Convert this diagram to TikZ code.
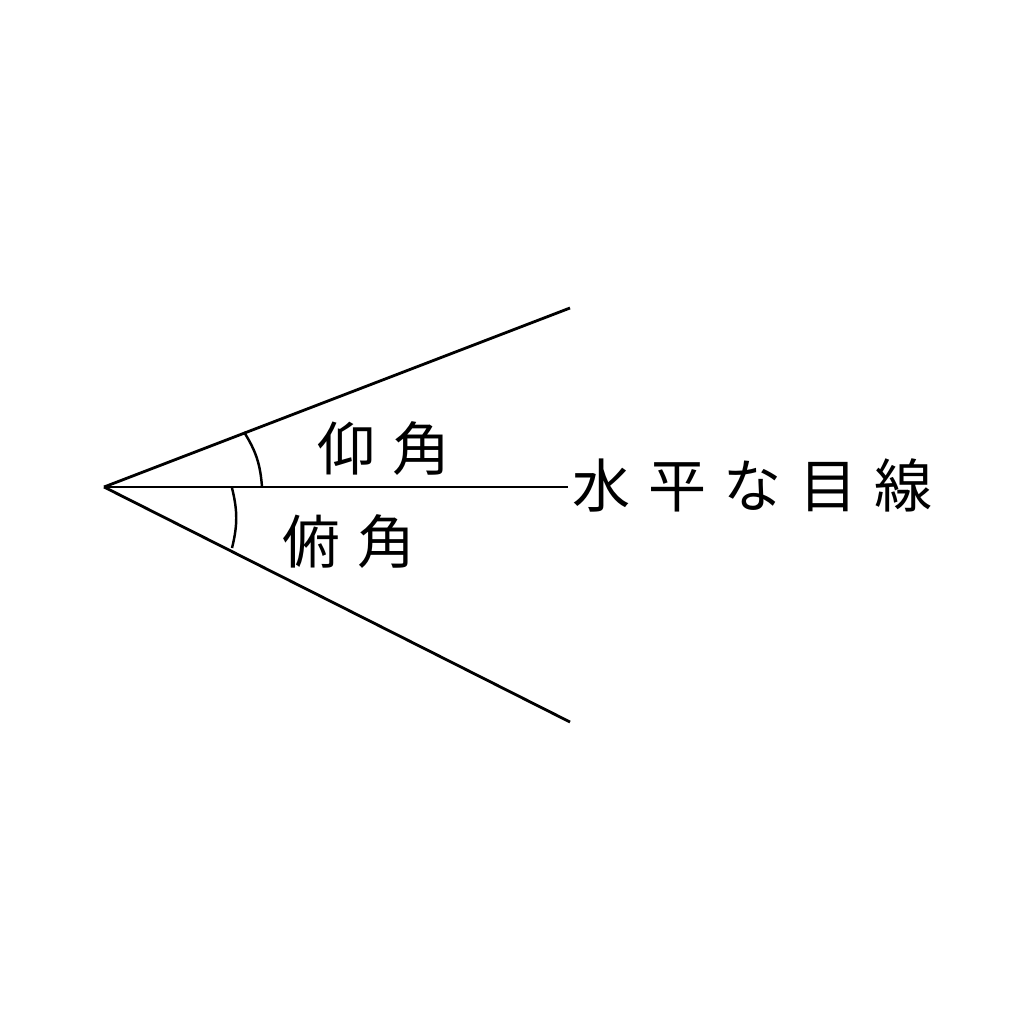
\documentclass[tikz,border=0pt]{standalone}
\usepackage{fontspec}
\newfontfamily\jpfont[LetterSpace=30]{Noto Sans CJK JP}
\usetikzlibrary{positioning}

\begin{document}
\begin{tikzpicture}[x=0.01cm, y=-0.01cm,
    sight/.style={line width=0.8pt},
    anglemark/.style={line width=0.7pt},
    jplabel/.style={inner sep=0pt, font=\jpfont\fontsize{16.5}{20}\selectfont}]
      \useasboundingbox[fill=white] (0,0) rectangle (1024,1024);
      % eye and the three lines of sight
      \coordinate (O) at (104,487);
      \coordinate (A) at (570,308);
      \coordinate (B) at (570,722);
      \coordinate (H) at (568,487);
      \draw[sight] (O) -- (A);
      \draw[sight] (O) -- (B);
      \draw[line width=0.6pt] (O) -- (H);

      % angle marks
      \coordinate (A1) at (244,432);
      \coordinate (H1) at (262,487);
      \coordinate (H2) at (232,488);
      \coordinate (B1) at (232,548);
      \draw[anglemark] (A1) to[bend left=14] (H1);
      \draw[anglemark] (H2) to[bend left=14] (B1);

      \node[jplabel] (elev) at (384,449) {仰角};
      \node[jplabel] (depr) at (349,542) {俯角};
      \node[jplabel, anchor=west] (horiz) at (572,485) {水平な目線};
    \end{tikzpicture}
\end{document}
